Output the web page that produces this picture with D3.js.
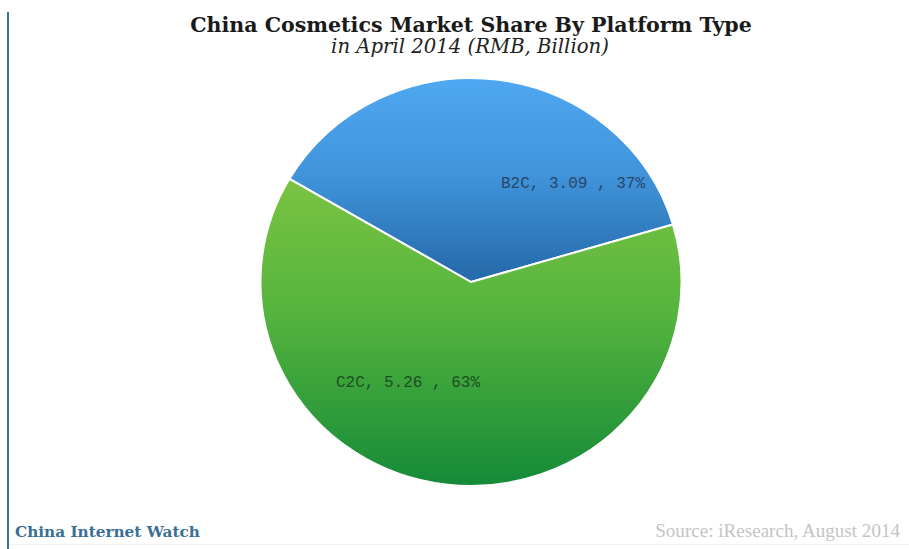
<!DOCTYPE html>
<html>
<head>
<meta charset="utf-8">
<script src="https://cdn.jsdelivr.net/npm/d3@7/dist/d3.min.js"></script>
<style>
  html, body { margin: 0; padding: 0; background: #ffffff; }
  svg { display: block; }
</style>
</head>
<body>
<svg id="chart" width="909" height="549"></svg>
<script>
// Platform types and their April 2014 sales (RMB, billion)
const platforms = ["B2C", "C2C"];
const sales = [3.09, 5.26];
const shareLabels = ["37%", "63%"];

const titleText = "China Cosmetics Market Share By Platform Type";
const subtitleText = "in April 2014 (RMB, Billion)";
const brandText = "China Internet Watch";
const sourceText = "Source: iResearch, August 2014";

const W = 909, H = 549;
const svg = d3.select("#chart");

// Shrink or grow a text element's font-size so it spans the given width
function fitWidth(sel, target) {
  const node = sel.node();
  const size = parseFloat(sel.attr("font-size"));
  const w = node.getComputedTextLength();
  sel.attr("font-size", (size * target / w).toFixed(2));
  return sel;
}

// Left rule
svg.append("line")
  .attr("x1", 8).attr("x2", 8).attr("y1", 12).attr("y2", H)
  .attr("stroke", "#3d7396").attr("stroke-width", 2);

// Faint bottom rule
svg.append("line")
  .attr("x1", 9).attr("x2", W).attr("y1", 544.5).attr("y2", 544.5)
  .attr("stroke", "#eef2f4").attr("stroke-width", 1);

// Titles
fitWidth(svg.append("text")
  .attr("x", 471).attr("y", 32)
  .attr("text-anchor", "middle")
  .attr("font-family", "'DejaVu Serif', serif")
  .attr("font-weight", "bold")
  .attr("font-size", 20)
  .attr("fill", "#1a1a1a")
  .text(titleText), 562);

fitWidth(svg.append("text")
  .attr("x", 470).attr("y", 53)
  .attr("text-anchor", "middle")
  .attr("font-family", "'DejaVu Serif', serif")
  .attr("font-style", "italic")
  .attr("font-size", 16)
  .attr("fill", "#222222")
  .text(subtitleText), 278);

// Pie
const cx = 471, cy = 282, r = 204, stretchX = 1.032;
const g = svg.append("g")
  .attr("transform", `translate(${cx},${cy}) scale(${stretchX},1)`);

const defs = svg.append("defs");
const gradStops = {
  B2C: [["0%", "#50a8f2"], ["50%", "#3f92d8"], ["100%", "#2468a8"]],
  C2C: [["0%", "#7cc443"], ["45%", "#55b43d"], ["100%", "#158a38"]]
};
const gradRange = { B2C: [-r, 0], C2C: [-110, r] };
platforms.forEach(p => {
  const lg = defs.append("linearGradient")
    .attr("id", "grad-" + p)
    .attr("gradientUnits", "userSpaceOnUse")
    .attr("x1", 0).attr("x2", 0)
    .attr("y1", cy + gradRange[p][0]).attr("y2", cy + gradRange[p][1]);
  gradStops[p].forEach(([o, c]) => lg.append("stop").attr("offset", o).attr("stop-color", c));
});
// gradients are used inside the transformed group, so express them in its space
platforms.forEach(p => {
  defs.select("#grad-" + p)
    .attr("y1", gradRange[p][0]).attr("y2", gradRange[p][1]);
});

const start = -59.6 * Math.PI / 180;
const pie = d3.pie().sort(null).value(d => d.value)
  .startAngle(start).endAngle(start + 2 * Math.PI);
const arc = d3.arc().innerRadius(0).outerRadius(r);

const data = platforms.map((p, i) => ({ name: p, value: sales[i], share: shareLabels[i] }));
const arcs = pie(data);

g.selectAll("path.slice")
  .data(arcs)
  .join("path")
  .attr("class", "slice")
  .attr("d", arc)
  .attr("fill", d => `url(#grad-${d.data.name})`)
  .attr("stroke", "#ffffff")
  .attr("stroke-width", 2)
  .attr("stroke-linejoin", "round");

// Slice labels (placed in screen space, offsets from the pie centre)
const labelPos = { B2C: [30, -94], C2C: [-135, 105] };
const labelColor = { B2C: "#27476b", C2C: "#1d4f22" };
svg.selectAll("text.slice-label")
  .data(arcs)
  .join("text")
  .attr("class", "slice-label")
  .attr("x", d => cx + labelPos[d.data.name][0])
  .attr("y", d => cy + labelPos[d.data.name][1])
  .attr("font-family", "'Liberation Mono', monospace")
  .attr("font-size", 16)
  .attr("fill", d => labelColor[d.data.name])
  .attr("xml:space", "preserve")
  .text(d => `${d.data.name}, ${d3.format(".2f")(d.data.value)} , ${d.data.share}`);

// Footer
fitWidth(svg.append("text")
  .attr("x", 15).attr("y", 537)
  .attr("font-family", "'DejaVu Serif', serif")
  .attr("font-weight", "bold")
  .attr("font-size", 14)
  .attr("fill", "#3a6f95")
  .text(brandText), 185);

fitWidth(svg.append("text")
  .attr("x", 900).attr("y", 537)
  .attr("text-anchor", "end")
  .attr("font-family", "'Liberation Serif', serif")
  .attr("font-size", 15)
  .attr("fill", "#c4c4c4")
  .text(sourceText), 245);
</script>
</body>
</html>
